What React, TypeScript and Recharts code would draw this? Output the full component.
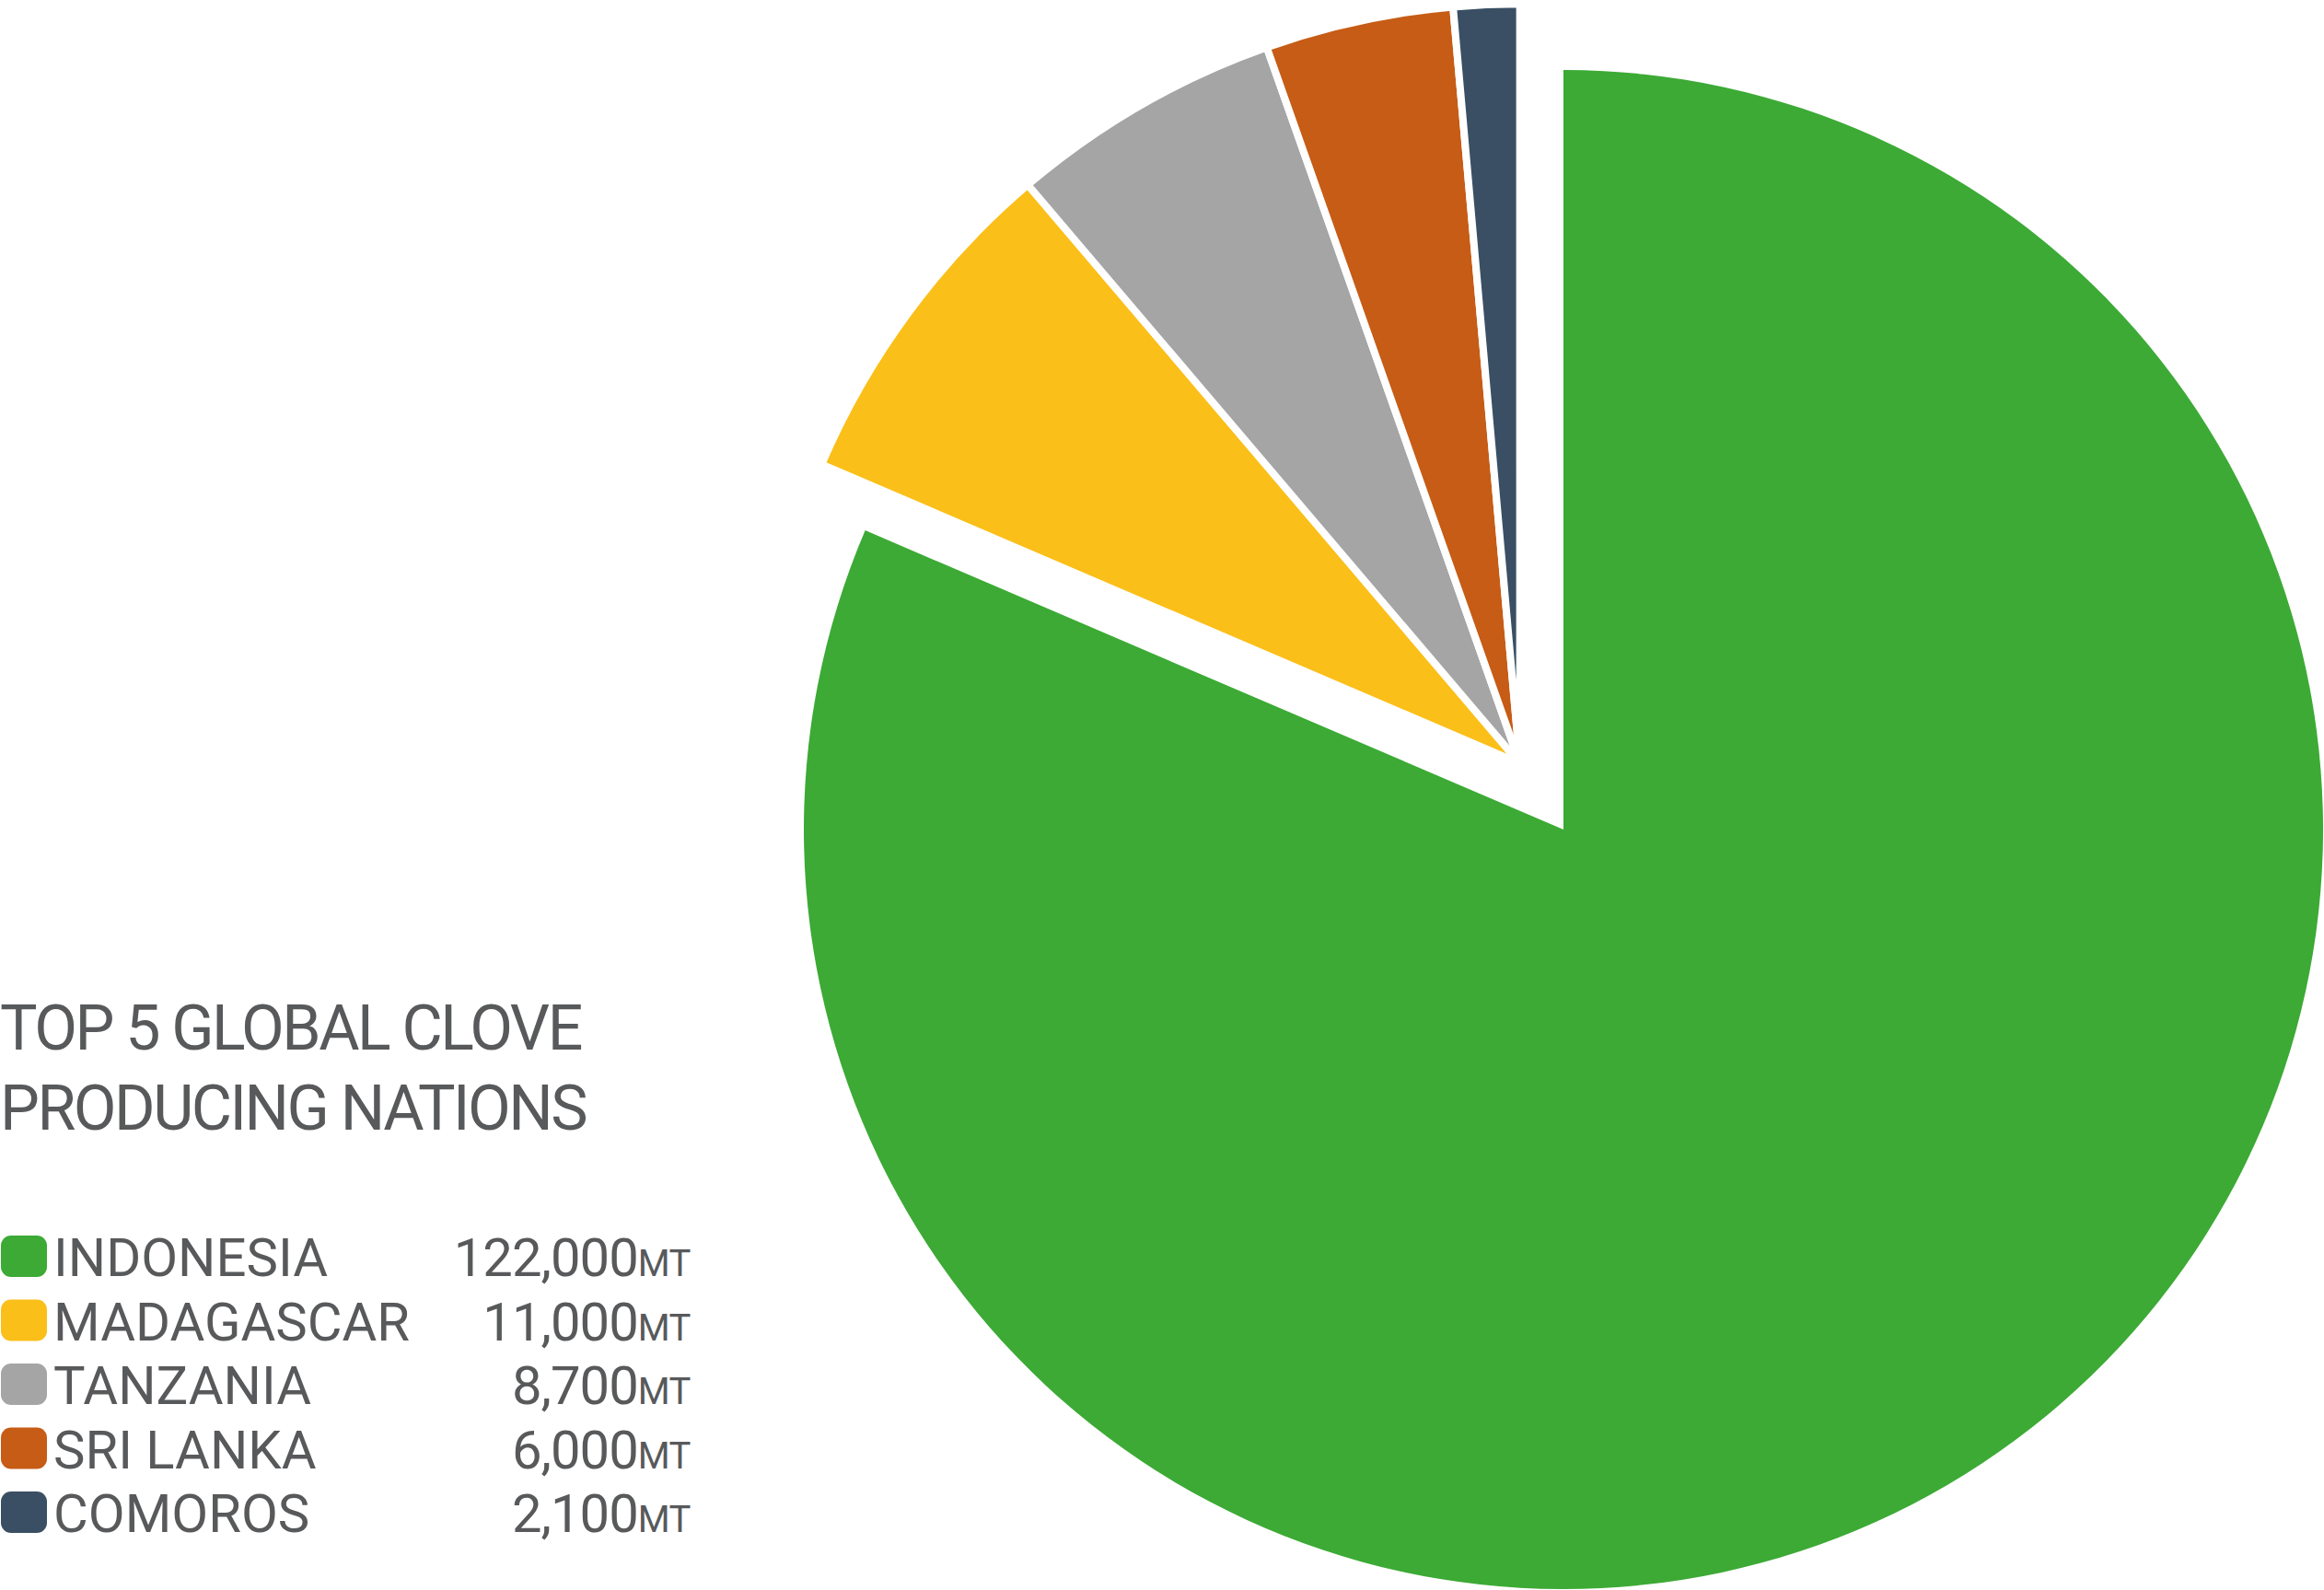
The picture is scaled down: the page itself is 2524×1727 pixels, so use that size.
import { Cell, Pie, PieChart } from "recharts";

// Clove production, metric tonnes
const countries = ["INDONESIA", "MADAGASCAR", "TANZANIA", "SRI LANKA", "COMOROS"];
const production = [122000, 11000, 8700, 6000, 2100];
const valueLabels = ["122,000", "11,000", "8,700", "6,000", "2,100"];
const colors = ["#3caa35", "#fbbf19", "#a5a5a5", "#c65c16", "#3a4f63"];
const titleLines = ["TOP 5 GLOBAL CLOVE", "PRODUCING NATIONS"];
const unit = "MT";

const W = 2524;
const H = 1727;
const CX = 1698;
const CY = 901;
const RADIUS = 825;
const START = 90;
const END = -270;
const EXPLODE = 86;
const TEXT = "#58595b";
const FONT = "Roboto, 'Open Sans', sans-serif";

const data = countries.map((name, i) => ({ name, value: production[i] }));

// the four smaller producers are pulled out together along their shared mid angle
const total = production.reduce((s, v) => s + v, 0);
const rest = total - production[0];
const midAngle = START + (END - START) * ((production[0] + rest / 2) / total);
const rad = (midAngle * Math.PI) / 180;
const groupCx = CX + EXPLODE * Math.cos(rad);
const groupCy = CY - EXPLODE * Math.sin(rad);

function LegendBlock() {
  return (
    <svg width={W} height={H} style={{ position: "absolute", left: 0, top: 0, pointerEvents: "none" }}>
      {titleLines.map((line, i) => (
        <text
          key={line}
          x={0}
          y={1140 + i * 87}
          fill={TEXT}
          fontFamily={FONT}
          fontSize={68}
          letterSpacing={-2.5}
        >
          {line}
        </text>
      ))}
      {countries.map((name, i) => {
        const top = 1342 + i * 69.5;
        return (
          <g key={name}>
            <rect x={1} y={top} width={50} height={45} rx={11} fill={colors[i]} />
            <text x={58} y={top + 44} fill={TEXT} fontFamily={FONT} fontSize={58}>
              {name}
            </text>
            <text x={750} y={top + 44} textAnchor="end" fill={TEXT} fontFamily={FONT} letterSpacing={-1}>
              <tspan fontSize={58}>{valueLabels[i]}</tspan>
              <tspan fontSize={40} letterSpacing={-0.5}>{unit}</tspan>
            </text>
          </g>
        );
      })}
    </svg>
  );
}

export default function App() {
  return (
    <div style={{ position: "absolute", left: 0, top: 0, width: W, height: H, background: "#fff" }}>
      <PieChart width={W} height={H} margin={{ top: 0, right: 0, bottom: 0, left: 0 }}>
        <Pie
          data={data}
          dataKey="value"
          nameKey="name"
          cx={CX}
          cy={CY}
          outerRadius={RADIUS}
          startAngle={START}
          endAngle={END}
          stroke="none"
          isAnimationActive={false}
        >
          {data.map((d, i) => (
            <Cell key={d.name} fill={i === 0 ? colors[0] : "transparent"} stroke="none" />
          ))}
        </Pie>
        <Pie
          data={data}
          dataKey="value"
          nameKey="name"
          cx={groupCx}
          cy={groupCy}
          outerRadius={RADIUS}
          startAngle={START}
          endAngle={END}
          isAnimationActive={false}
        >
          {data.map((d, i) => (
            <Cell
              key={d.name}
              fill={i === 0 ? "transparent" : colors[i]}
              stroke={i === 0 ? "none" : "#fff"}
              strokeWidth={8}
            />
          ))}
        </Pie>
      </PieChart>
      <LegendBlock />
    </div>
  );
}
